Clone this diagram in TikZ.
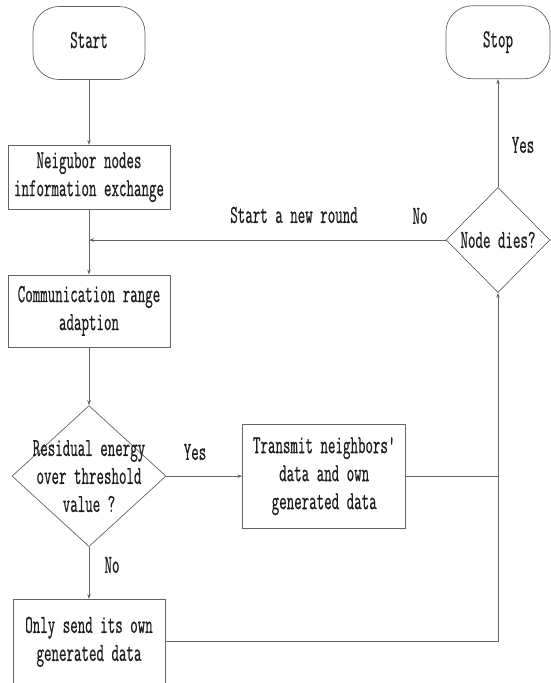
\documentclass[tikz,border=0pt]{standalone}
\usepackage{fontspec}
\newfontfamily\flowfont{Latin Modern Mono}[FakeStretch=0.56,FakeBold=0.6]
\usepackage{tikz}
\usetikzlibrary{arrows.meta,positioning,shapes.geometric}
\definecolor{flowline}{RGB}{100,100,100}
\definecolor{flowtext}{RGB}{30,30,30}

\begin{document}
\begin{tikzpicture}[
  x=1pt, y=-1pt,
  font=\flowfont\fontsize{26}{28}\selectfont,
  line width=0.7pt,
  terminal/.style={draw=flowline, rounded corners=26pt, minimum width=112pt,
                   minimum height=73pt, inner sep=0pt, text=flowtext,
                   text height=14pt, text depth=4pt},
  proc/.style={draw=flowline, align=center, minimum width=162pt,
               inner sep=2pt, text=flowtext},
  decision/.style={draw=flowline, diamond, inner sep=0pt},
  arr/.style={-{Stealth[length=5pt,width=3.5pt]}, flowline},
  lbl/.style={text=flowtext, align=center},
  every node/.style={align=center}
]
\useasboundingbox (0,0) rectangle (550,683);
\node[terminal] (start) at (89,43) {Start};
\node[proc, minimum height=64pt, below=65pt of start] (neigh) {Neigubor nodes\\information exchange};
\node[proc, minimum height=72pt, below=65pt of neigh] (comm) {Communication range\\adaption};
\node[decision, minimum width=154pt, minimum height=141pt, below=58pt of comm,
      label={[lbl]center:Residual energy\\over threshold\\value ?}] (resid) {};
\node[proc, minimum width=152pt, minimum height=85pt, below=52pt of resid] (only) {Only send its own\\generated data};
\node[proc, minimum width=163pt, minimum height=104pt, right=76pt of resid] (trans) {Transmit neighbors'\\data and own\\generated data};
\node[decision, minimum width=104pt, minimum height=105pt,
      label={[lbl]center:Node dies?}] (dies) at (498,240) {};
\node[terminal, minimum width=104pt, above=108pt of dies] (stop) {Stop};

% branch labels
\node[lbl] (yesstop) at (523,145) {Yes};
\node[lbl] (noround) at (420,216) {No};
\node[lbl] (newround) at (294,215) {Start a new round};
\node[lbl] (yesres) at (195,452) {Yes};
\node[lbl] (nores) at (112,565) {No};

\coordinate (merge) at (neigh.south |- dies.west);
\coordinate (join) at (trans.east -| dies.south);
\draw[arr] (start) -- (neigh);
\draw[arr] (neigh) -- (comm);
\draw[arr] (dies.west) -- (merge);
\draw[arr] (comm) -- (resid);
\draw[arr] (resid) -- (trans);
\draw[arr] (resid) -- (only);
\draw[arr] (trans.east) -- (join) -- (dies.south);
\draw[flowline] (only.east) -| (join);
\draw[arr] (dies) -- (stop);
\end{tikzpicture}
\end{document}
